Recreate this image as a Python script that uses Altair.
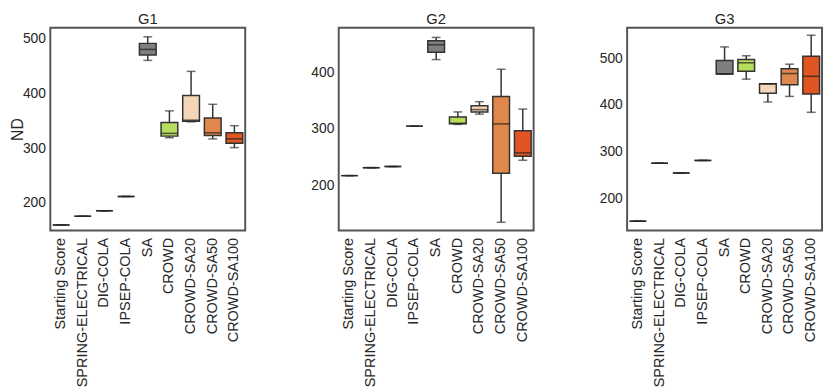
import altair as alt
import pandas as pd

methods = ["Starting Score", "SPRING-ELECTRICAL", "DIG-COLA", "IPSEP-COLA", "SA",
           "CROWD", "CROWD-SA20", "CROWD-SA50", "CROWD-SA100"]
groups = ["G1", "G2", "G3"]

# G1
g1_min = [160, 176, 186, 212, 460, 319, 348, 317, 301]
g1_q1 = [160, 176, 186, 212, 470, 322, 349, 323, 309]
g1_med = [160, 176, 186, 212, 480, 327, 351, 328, 317]
g1_q3 = [160, 176, 186, 212, 491, 347, 396, 355, 328]
g1_max = [160, 176, 186, 212, 503, 368, 440, 380, 341]
# G2
g2_min = [218, 232, 234, 305, 422, 308, 326, 136, 245]
g2_q1 = [218, 232, 234, 305, 435, 309, 330, 222, 252]
g2_med = [218, 232, 234, 305, 448, 310, 334, 309, 258]
g2_q3 = [218, 232, 234, 305, 455, 321, 341, 357, 297]
g2_max = [218, 232, 234, 305, 461, 330, 348, 405, 335]
# G3
g3_min = [151, 275, 254, 281, 466, 455, 406, 418, 384]
g3_q1 = [151, 275, 254, 281, 466, 472, 425, 443, 423]
g3_med = [151, 275, 254, 281, 466, 490, 445, 467, 461]
g3_q3 = [151, 275, 254, 281, 495, 497, 445, 477, 504]
g3_max = [151, 275, 254, 281, 524, 505, 445, 487, 549]

y_domains = {"G1": [150, 519.5], "G2": [121.5, 478], "G3": [131, 565]}
y_ticks = {"G1": [200, 300, 400, 500], "G2": [200, 300, 400], "G3": [200, 300, 400, 500]}

colors = ["#ffffff", "#ffffff", "#ffffff", "#ffffff", "#7f7f7f",
          "#b6dd5b", "#f6d6b8", "#e0884b", "#e05522"]

stats = {
    "G1": (g1_min, g1_q1, g1_med, g1_q3, g1_max),
    "G2": (g2_min, g2_q1, g2_med, g2_q3, g2_max),
    "G3": (g3_min, g3_q1, g3_med, g3_q3, g3_max),
}
rows = []
for g in groups:
    mn, q1, md, q3, mx = stats[g]
    for i, m in enumerate(methods):
        rows.append({"group": g, "method": m, "lo": mn[i], "q1": q1[i],
                     "med": md[i], "q3": q3[i], "hi": mx[i]})
df = pd.DataFrame(rows)

FONT = "Liberation Sans"
TXT = "#262626"


def panel(g, first):
    base = alt.Chart(df).transform_filter(alt.datum.group == g)
    x = alt.X("method:N", sort=methods,
              scale=alt.Scale(domain=methods, paddingInner=0, paddingOuter=0),
              axis=alt.Axis(labelAngle=-90, title=None, ticks=False, domain=False,
                            labelPadding=7, labelFontSize=14.7, labelColor=TXT,
                            labelFont=FONT))
    yscale = alt.Scale(domain=y_domains[g], nice=False, zero=False)
    yaxis = alt.Axis(values=y_ticks[g], grid=False, ticks=False, domain=False,
                     labelPadding=5, labelFontSize=14, labelColor=TXT,
                     labelFont=FONT, title="ND" if first else "",
                     titleFontSize=16, titleFontWeight="normal", titleColor=TXT,
                     titleFont=FONT, titlePadding=-3)

    def Y(field):
        return alt.Y(field, scale=yscale, axis=yaxis)

    whisk = base.mark_rule(color="#333333", strokeWidth=1.5).encode(
        x=x, y=Y("lo:Q"), y2="hi:Q")
    cap_lo = base.mark_tick(color="#333333", size=9, thickness=1.5,
                            orient="horizontal").encode(x=x, y=Y("lo:Q"))
    cap_hi = base.mark_tick(color="#333333", size=9, thickness=1.5,
                            orient="horizontal").encode(x=x, y=Y("hi:Q"))
    box = base.mark_bar(size=17, stroke="#333333", strokeWidth=1.5).encode(
        x=x, y=Y("q1:Q"), y2="q3:Q",
        color=alt.Color("method:N", scale=alt.Scale(domain=methods, range=colors),
                        legend=None))
    med = base.mark_tick(color="#222222", size=17, thickness=1.6,
                         orient="horizontal").encode(x=x, y=Y("med:Q"))
    return alt.layer(whisk, box, cap_lo, cap_hi, med).properties(
        width=198, height=206,
        title=alt.TitleParams(g, fontSize=15, fontWeight="normal", color=TXT,
                              font=FONT, offset=1))


chart = alt.hconcat(*[panel(g, i == 0) for i, g in enumerate(groups)], spacing=64).properties(
    padding={"left": 0, "top": 0, "right": 0, "bottom": 0},
    background="white"
).configure_view(stroke="#555555", strokeWidth=2)

chart.save("out.html", embed_options={"renderer": "svg", "actions": False})
